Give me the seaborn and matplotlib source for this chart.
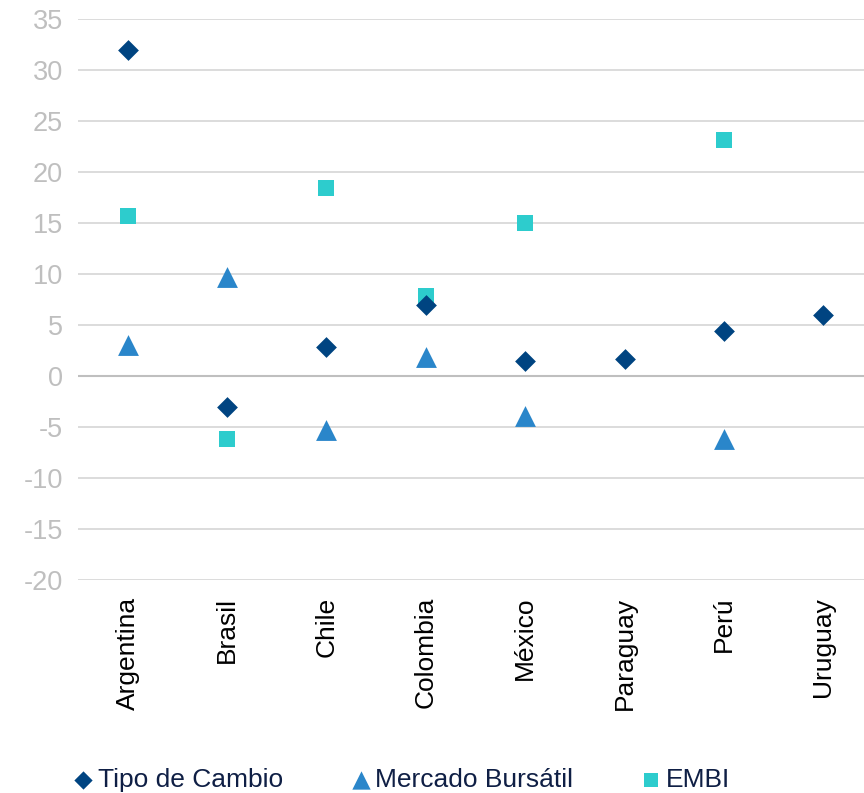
import numpy as np
import pandas as pd
import matplotlib
matplotlib.use("Agg")
import matplotlib.pyplot as plt
import seaborn as sns

paises = ["Argentina", "Brasil", "Chile", "Colombia", "México", "Paraguay", "Perú", "Uruguay"]
tipo_cambio = [32.0, -3.0, 2.8, 7.0, 1.5, 1.7, 4.4, 6.0]
mercado_bursatil = [3.0, 9.7, -5.3, 1.9, -3.9, np.nan, -6.2, np.nan]
embi = [15.7, -6.2, 18.4, 7.8, 15.0, np.nan, 23.1, np.nan]

df = pd.DataFrame({
    "pais": paises,
    "Tipo de Cambio": tipo_cambio,
    "Mercado Bursátil": mercado_bursatil,
    "EMBI": embi,
})

sns.set_style("white")
plt.rcParams["font.family"] = ["Liberation Sans", "DejaVu Sans"]
plt.rcParams["axes.unicode_minus"] = False

fig = plt.figure(figsize=(8.64, 7.93), dpi=100)
ax = fig.add_axes([78 / 864, 1 - 580 / 793, 795 / 864, 561 / 793])

sns.scatterplot(data=df, x="pais", y="Tipo de Cambio", marker="D", s=112,
                color="#004481", linewidth=0, label="Tipo de Cambio", ax=ax, zorder=5)
sns.scatterplot(data=df, x="pais", y="Mercado Bursátil", marker="^", s=225,
                color="#2A86CA", linewidth=0, label="Mercado Bursátil", ax=ax, zorder=4)
sns.scatterplot(data=df, x="pais", y="EMBI", marker="s", s=130,
                color="#2DCCCD", linewidth=0, label="EMBI", ax=ax, zorder=3)

ax.set_xlim(-0.5, 7.5)
ax.set_ylim(-20, 35)
ax.set_yticks(range(-20, 36, 5))
ax.grid(axis="y", color="#d9d9d9", linewidth=1.3, zorder=0)
ax.grid(axis="x", visible=False)
ax.axhline(0, color="#bfbfbf", linewidth=1.5, zorder=1)
ax.set_axisbelow(True)
for s in ax.spines.values():
    s.set_visible(False)
ax.set_xlabel("")
ax.set_ylabel("")
ax.tick_params(axis="y", length=0, pad=11, labelsize=19.5, labelcolor="#bfbfbf")
ax.tick_params(axis="x", length=0, pad=12, labelsize=19, labelcolor="#000000")
plt.setp(ax.get_xticklabels(), rotation=90)

ax.legend_.remove()
handles, labels = ax.get_legend_handles_labels()
leg = fig.legend(handles, labels, loc="center", bbox_to_anchor=(0.465, 0.016), ncol=3,
                 frameon=False, fontsize=19, markerscale=0.88, handlelength=0.7,
                 handletextpad=0.2, columnspacing=2.6)
for t in leg.get_texts():
    t.set_color("#0f1f45")

fig.savefig("out.png", dpi=100)
